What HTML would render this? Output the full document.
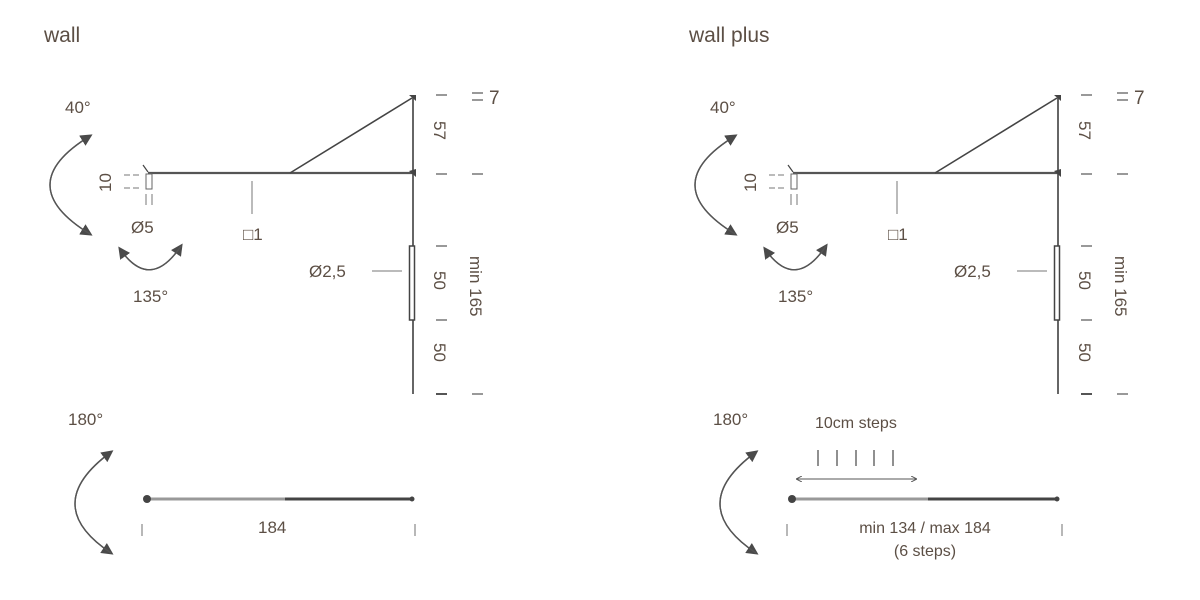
<!DOCTYPE html>
<html><head><meta charset="utf-8"><style>
html,body{margin:0;padding:0;background:#fff;width:1200px;height:600px;overflow:hidden}
svg{display:block}
text{font-family:"Liberation Sans",sans-serif;fill:#5c4f45;font-size:17px}
</style></head><body>
<svg width="1200" height="600" viewBox="0 0 1200 600">
<defs>
<marker id="ah" markerWidth="12" markerHeight="12" refX="9" refY="6" orient="auto" markerUnits="userSpaceOnUse">
<path d="M0,0 L12,6 L0,12 Z" fill="#4a4a4a"/></marker>
<marker id="sa" markerWidth="6" markerHeight="6" refX="5" refY="3" orient="auto" markerUnits="userSpaceOnUse">
<path d="M0,0 L6,3 L0,6" fill="none" stroke="#555" stroke-width="1"/></marker>
<g id="top">
 <text x="65" y="113">40°</text>
 <path d="M90,136 Q10,185 90,234" fill="none" stroke="#555" stroke-width="1.4" marker-end="url(#ah)"/>
 <path d="M90,234 Q10,185 90,136" fill="none" stroke="#555" stroke-width="1.4" marker-end="url(#ah)"/>
 <path d="M120,249 Q150,292 181,246" fill="none" stroke="#555" stroke-width="1.4" marker-end="url(#ah)"/>
 <path d="M181,246 Q150,292 120,249" fill="none" stroke="#555" stroke-width="1.4" marker-end="url(#ah)"/>
 <text x="133" y="302">135°</text>
 <line x1="148" y1="173" x2="413" y2="173" stroke="#555" stroke-width="2.2"/>
 <line x1="290" y1="173" x2="412" y2="98" stroke="#444" stroke-width="1.6"/>
 <line x1="413" y1="96" x2="413" y2="394" stroke="#555" stroke-width="1.8"/>
 <path d="M409,95 L416,95 L416,101 Z" fill="#444"/>
 <path d="M409,171 L416,169 L416,177 Z" fill="#444"/>
 <rect x="409.5" y="246" width="5" height="74" fill="#fff" stroke="#444" stroke-width="1.5"/>
 <line x1="143" y1="165" x2="148" y2="172" stroke="#444" stroke-width="1.2"/>
 <rect x="146" y="174" width="6" height="15" fill="#fff" stroke="#666" stroke-width="1"/>
 <g stroke="#777" stroke-width="1">
  <line x1="124" y1="175" x2="130" y2="175"/><line x1="133" y1="175" x2="139" y2="175"/>
  <line x1="124" y1="188" x2="130" y2="188"/><line x1="133" y1="188" x2="139" y2="188"/>
  <line x1="146" y1="194" x2="146" y2="205"/><line x1="152" y1="194" x2="152" y2="205"/>
  <line x1="252" y1="181" x2="252" y2="214"/>
  <line x1="372" y1="271" x2="402" y2="271"/>
 </g>
 <text x="0" y="0" transform="translate(111,192) rotate(-90)">10</text>
 <text x="131" y="233">Ø5</text>
 <text x="243" y="240">□1</text>
 <text x="309" y="277">Ø2,5</text>
 <g stroke="#555" stroke-width="1.2">
  <line x1="436" y1="95" x2="447" y2="95"/><line x1="436" y1="174" x2="447" y2="174"/>
  <line x1="436" y1="246" x2="447" y2="246"/><line x1="436" y1="320" x2="447" y2="320"/>
  <line x1="436" y1="394" x2="447" y2="394" stroke-width="2"/>
  <line x1="472" y1="93" x2="483" y2="93"/><line x1="472" y1="100" x2="483" y2="100"/>
  <line x1="472" y1="174" x2="483" y2="174"/><line x1="472" y1="394" x2="483" y2="394"/>
 </g>
 <text x="489" y="104" style="font-size:19px">7</text>
 <text transform="translate(434,121) rotate(90)">57</text>
 <text transform="translate(434,271) rotate(90)">50</text>
 <text transform="translate(434,343) rotate(90)">50</text>
 <text transform="translate(470,256) rotate(90)">min 165</text>
 <text x="68" y="425">180°</text>
 <path d="M111,452 Q39,505 111,553" fill="none" stroke="#555" stroke-width="1.4" marker-end="url(#ah)"/>
 <path d="M111,553 Q39,505 111,452" fill="none" stroke="#555" stroke-width="1.4" marker-end="url(#ah)"/>
</g>
</defs>
<text x="44" y="42" style="font-size:21px">wall</text>
<text x="689" y="42" style="font-size:21px">wall plus</text>
<use href="#top"/>
<use href="#top" transform="translate(645,0)"/>
<line x1="144" y1="499" x2="285" y2="499" stroke="#999" stroke-width="3"/>
<line x1="285" y1="499" x2="413" y2="499" stroke="#444" stroke-width="3"/>
<circle cx="147" cy="499" r="4" fill="#444"/>
<circle cx="412" cy="499" r="2.5" fill="#444"/>
<line x1="142" y1="524" x2="142" y2="536" stroke="#888" stroke-width="1.2"/>
<line x1="415" y1="524" x2="415" y2="536" stroke="#888" stroke-width="1.2"/>
<text x="258" y="533">184</text>
<line x1="789" y1="499" x2="928" y2="499" stroke="#999" stroke-width="3"/>
<line x1="928" y1="499" x2="1058" y2="499" stroke="#444" stroke-width="3"/>
<circle cx="792" cy="499" r="4" fill="#444"/>
<circle cx="1057" cy="499" r="2.5" fill="#444"/>
<line x1="787" y1="524" x2="787" y2="536" stroke="#888" stroke-width="1.2"/>
<line x1="1062" y1="524" x2="1062" y2="536" stroke="#888" stroke-width="1.2"/>
<text x="815" y="428" style="font-size:16px">10cm steps</text>
<g stroke="#555" stroke-width="1.3">
 <line x1="818" y1="450" x2="818" y2="466"/><line x1="837" y1="450" x2="837" y2="466"/>
 <line x1="856" y1="450" x2="856" y2="466"/><line x1="874" y1="450" x2="874" y2="466"/>
 <line x1="893" y1="450" x2="893" y2="466"/>
</g>
<line x1="800" y1="479" x2="916" y2="479" stroke="#555" stroke-width="1" marker-end="url(#sa)"/>
<line x1="916" y1="479" x2="797" y2="479" stroke="#555" stroke-width="1" marker-end="url(#sa)"/>
<text x="925" y="533" text-anchor="middle" style="font-size:16px">min 134 / max 184</text>
<text x="925" y="556" text-anchor="middle" style="font-size:16px">(6 steps)</text>
</svg>
</body></html>
